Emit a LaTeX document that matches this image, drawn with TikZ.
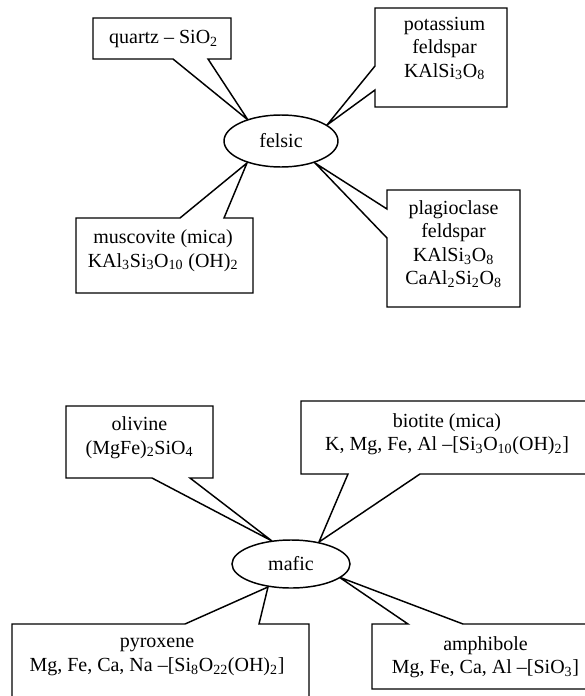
\documentclass[tikz,border=0pt]{standalone}
\usepackage{fontspec}
\setmainfont{Liberation Serif}
\usetikzlibrary{shapes.geometric}
\begin{document}
\begin{tikzpicture}[x=0.75pt,y=-0.75pt,
  callout/.style={draw=black,fill=white,line width=1.1pt,line join=miter},
  txt/.style={font=\fontsize{15}{17.6}\selectfont,align=center,inner sep=0pt},
  hub/.style={draw=black,fill=white,line width=1.1pt,ellipse,inner sep=0pt,font=\fontsize{15}{17.6}\selectfont}]
\useasboundingbox (0,0) rectangle (585,696);
\clip (0,0) rectangle (585,696);
% tips
\coordinate (tq) at (248,120);
\coordinate (tk) at (327,125);
\coordinate (tp) at (315,163);
\coordinate (tm) at (247,163);
\coordinate (to) at (272,541);
\coordinate (tb) at (319,542);
\coordinate (tx) at (268,587);
\coordinate (ta) at (339,577);
% felsic callouts
\draw[callout] (93,18) -- (231,18) -- (231,59) -- (208,59) -- (tq) -- (173,59) -- (93,59) -- cycle;
\draw[callout] (375,8) -- (507,8) -- (507,107) -- (375,107) -- (375,90) -- (tk) -- (375,66) -- cycle;
\draw[callout] (387,190) -- (520,190) -- (520,307) -- (387,307) -- (387,238) -- (tp) -- (387,209) -- cycle;
\draw[callout] (76,218) -- (180,218) -- (tm) -- (224,218) -- (253,218) -- (253,293) -- (76,293) -- cycle;
% mafic callouts
\draw[callout] (66,406) -- (213,406) -- (213,478) -- (190,478) -- (to) -- (152,478) -- (66,478) -- cycle;
\draw[callout] (301,401) -- (600,401) -- (600,474) -- (420,474) -- (tb) -- (348,474) -- (301,474) -- cycle;
\draw[callout] (12,624) -- (185,624) -- (tx) -- (259,624) -- (309,624) -- (309,710) -- (12,710) -- cycle;
\draw[callout] (372,624) -- (408,624) -- (ta) -- (463,624) -- (600,624) -- (600,689) -- (372,689) -- cycle;
% hubs
\node[hub,minimum width=85.5pt,minimum height=39pt] (felsic) at (281,141) {felsic};
\node[hub,minimum width=88.5pt,minimum height=36pt] (mafic) at (291,564) {mafic};
% texts
\node[txt] (quartz) at (163.5,39) {quartz -- SiO\textsubscript{2}};
\node[txt] (potassium) at (444.5,48.5) {potassium\\feldspar\\KAlSi\textsubscript{3}O\textsubscript{8}};
\node[txt] (plagio) at (453.5,244) {plagioclase\\feldspar\\KAlSi\textsubscript{3}O\textsubscript{8}\\CaAl\textsubscript{2}Si\textsubscript{2}O\textsubscript{8}};
\node[txt] (musco) at (163,250.5) {muscovite (mica)\\KAl\textsubscript{3}Si\textsubscript{3}O\textsubscript{10} (OH)\textsubscript{2}};
\node[txt] (olivine) at (139.5,437.5) {olivine\\(MgFe)\textsubscript{2}SiO\textsubscript{4}};
\node[txt] (biotite) at (447,434) {biotite (mica)\\K, Mg, Fe, Al --[Si\textsubscript{3}O\textsubscript{10}(OH)\textsubscript{2}]};
\node[txt] (pyroxene) at (157,657) {pyroxene\\Mg, Fe, Ca, Na --[Si\textsubscript{8}O\textsubscript{22}(OH)\textsubscript{2}]};
\node[txt] (amphibole) at (485.5,657) {amphibole\\Mg, Fe, Ca, Al --[SiO\textsubscript{3}]};
\end{tikzpicture}
\end{document}
